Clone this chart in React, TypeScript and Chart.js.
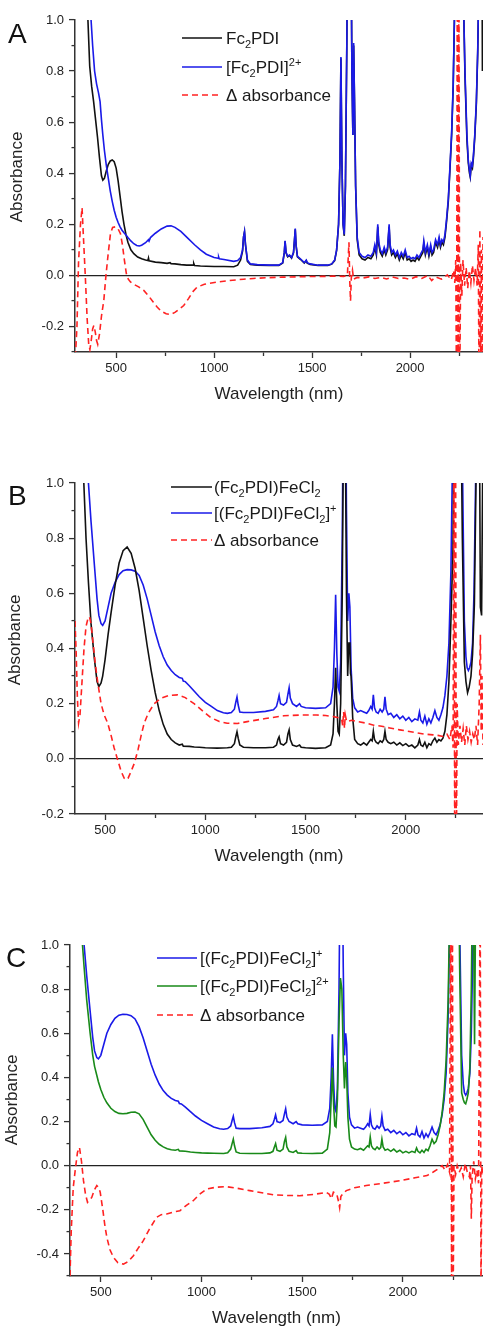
import React, { useEffect, useRef } from 'react';
import { Chart, registerables } from 'chart.js';

Chart.register(...registerables);

type Pt = [number, number];

const FONT = '"Liberation Sans", Arial, Helvetica, sans-serif';

// ---------------- Panel A ----------------
const fc2pdiA: Pt[] = [
  [300, 2.0], [320, 1.6], [340, 1.25], [355, 1.02], [365, 0.82], [375, 0.74], [385, 0.68], [395, 0.61], [405, 0.54], [415, 0.46],
  [425, 0.39], [432, 0.373], [440, 0.38], [450, 0.41], [460, 0.435], [470, 0.448], [480, 0.452], [490, 0.445], [500, 0.42], [510, 0.37],
  [520, 0.31], [530, 0.25], [540, 0.2], [550, 0.16], [560, 0.13], [575, 0.1], [590, 0.085], [610, 0.072], [630, 0.065], [650, 0.06],
  [662, 0.058], [665, 0.068], [668, 0.057], [700, 0.052], [730, 0.05], [760, 0.047], [775, 0.05], [780, 0.046], [800, 0.045], [830, 0.042],
  [860, 0.04], [893, 0.04], [896, 0.047], [900, 0.039], [930, 0.037], [960, 0.036], [1000, 0.035], [1050, 0.035], [1100, 0.034], [1120, 0.04],
  [1135, 0.06], [1145, 0.095], [1150, 0.15], [1155, 0.17], [1160, 0.12], [1170, 0.055], [1185, 0.043], [1220, 0.04], [1280, 0.039], [1330, 0.039],
  [1350, 0.048], [1358, 0.088], [1362, 0.133], [1367, 0.088], [1375, 0.073], [1385, 0.078], [1395, 0.068], [1405, 0.088], [1410, 0.138], [1414, 0.18],
  [1418, 0.118], [1425, 0.073], [1440, 0.063], [1460, 0.048], [1470, 0.058], [1475, 0.048], [1490, 0.043], [1530, 0.039], [1580, 0.039], [1600, 0.044],
  [1615, 0.058], [1625, 0.098], [1635, 0.2], [1642, 0.45], [1647, 0.85], [1652, 0.45], [1658, 0.2], [1664, 0.155], [1670, 0.35], [1677, 0.9],
  [1684, 1.6], [1690, 1.7], [1697, 1.5], [1703, 0.8], [1708, 0.55], [1712, 0.9], [1716, 0.7], [1722, 0.35], [1730, 0.14], [1740, 0.08],
  [1755, 0.065], [1770, 0.06], [1785, 0.07], [1800, 0.065], [1812, 0.08], [1820, 0.11], [1828, 0.08], [1835, 0.19], [1840, 0.12], [1848, 0.09],
  [1858, 0.075], [1868, 0.1], [1876, 0.08], [1885, 0.1], [1893, 0.19], [1898, 0.11], [1906, 0.08], [1915, 0.09], [1925, 0.07], [1935, 0.085],
  [1945, 0.06], [1955, 0.08], [1965, 0.065], [1975, 0.09], [1985, 0.06], [1995, 0.065], [2005, 0.055], [2015, 0.06], [2025, 0.055], [2035, 0.07],
  [2045, 0.06], [2055, 0.075], [2065, 0.09], [2070, 0.125], [2078, 0.08], [2088, 0.11], [2096, 0.075], [2105, 0.11], [2112, 0.08], [2120, 0.09],
  [2130, 0.13], [2140, 0.11], [2148, 0.14], [2155, 0.11], [2162, 0.13], [2170, 0.12], [2178, 0.15], [2186, 0.21], [2195, 0.29], [2203, 0.41],
  [2212, 0.55], [2220, 0.74], [2226, 1.0], [2232, 1.5], [2240, 2], [2260, 2], [2272, 1.1], [2280, 0.78], [2290, 0.53], [2297, 0.44],
  [2303, 0.4], [2307, 0.385], [2312, 0.43], [2318, 0.42], [2323, 0.46], [2330, 0.54], [2338, 0.67], [2345, 0.87], [2352, 1.2], [2360, 2],
  [2366, 1.5], [2369, 0.8], [2372, 1.2],
];

const fc2pdi2plusA: Pt[] = [
  [300, 3], [320, 2.5], [340, 1.9], [355, 1.4], [365, 1.15], [372, 1.0], [380, 0.9], [390, 0.8], [400, 0.75], [410, 0.715],
  [418, 0.68], [425, 0.61], [432, 0.55], [440, 0.49], [450, 0.43], [460, 0.38], [470, 0.33], [480, 0.29], [490, 0.255], [500, 0.228],
  [510, 0.207], [520, 0.19], [530, 0.177], [540, 0.167], [550, 0.158], [560, 0.148], [575, 0.135], [590, 0.124], [605, 0.117], [618, 0.115],
  [630, 0.118], [650, 0.128], [665, 0.14], [668, 0.135], [675, 0.148], [700, 0.165], [730, 0.182], [760, 0.193], [780, 0.194], [800, 0.188],
  [830, 0.172], [860, 0.15], [900, 0.12], [930, 0.1], [960, 0.083], [1000, 0.07], [1020, 0.067], [1023, 0.072], [1026, 0.065], [1050, 0.062],
  [1100, 0.055], [1120, 0.058], [1135, 0.07], [1145, 0.1], [1150, 0.15], [1155, 0.172], [1160, 0.12], [1170, 0.06], [1185, 0.045], [1220, 0.042],
  [1280, 0.04], [1330, 0.04], [1350, 0.05], [1358, 0.09], [1362, 0.135], [1367, 0.09], [1375, 0.075], [1385, 0.08], [1395, 0.07], [1405, 0.09],
  [1410, 0.14], [1414, 0.183], [1418, 0.12], [1425, 0.075], [1440, 0.065], [1460, 0.05], [1470, 0.06], [1475, 0.05], [1490, 0.045], [1530, 0.04],
  [1580, 0.04], [1600, 0.045], [1615, 0.06], [1625, 0.1], [1635, 0.2], [1642, 0.45], [1647, 0.855], [1652, 0.45], [1658, 0.2], [1664, 0.16],
  [1670, 0.35], [1677, 0.9], [1684, 1.6], [1690, 1.7], [1697, 1.5], [1703, 0.8], [1708, 0.55], [1712, 0.91], [1716, 0.7], [1722, 0.35],
  [1730, 0.15], [1740, 0.09], [1755, 0.075], [1770, 0.07], [1785, 0.08], [1800, 0.075], [1812, 0.09], [1820, 0.12], [1828, 0.09], [1835, 0.2],
  [1840, 0.13], [1848, 0.1], [1858, 0.085], [1868, 0.11], [1876, 0.09], [1885, 0.11], [1893, 0.2], [1898, 0.12], [1906, 0.09], [1915, 0.1],
  [1925, 0.08], [1935, 0.095], [1945, 0.07], [1955, 0.09], [1965, 0.075], [1975, 0.1], [1985, 0.07], [1995, 0.075], [2005, 0.065], [2015, 0.07],
  [2025, 0.065], [2035, 0.08], [2045, 0.07], [2055, 0.085], [2065, 0.1], [2070, 0.135], [2078, 0.09], [2088, 0.12], [2096, 0.085], [2105, 0.12],
  [2112, 0.09], [2120, 0.1], [2130, 0.14], [2140, 0.12], [2148, 0.15], [2155, 0.12], [2162, 0.14], [2170, 0.13], [2178, 0.16], [2186, 0.22],
  [2195, 0.3], [2203, 0.42], [2212, 0.56], [2220, 0.75], [2226, 1.0], [2232, 1.5], [2240, 2], [2260, 2], [2272, 1.1], [2280, 0.8],
  [2290, 0.55], [2297, 0.45], [2303, 0.41], [2307, 0.39], [2312, 0.44], [2318, 0.43], [2323, 0.47], [2330, 0.55], [2338, 0.68], [2345, 0.88],
  [2352, 1.2], [2360, 2], [2372, 2],
];

const deltaA: Pt[] = [
  [292, -0.32], [300, -0.2], [308, 0.05], [318, 0.2], [326, 0.265], [333, 0.15], [343, -0.01], [352, -0.17], [360, -0.27], [366, -0.29],
  [372, -0.26], [380, -0.21], [386, -0.196], [393, -0.22], [400, -0.255], [406, -0.27], [415, -0.23], [425, -0.16], [437, -0.098], [448, 0.0],
  [460, 0.09], [471, 0.163], [482, 0.188], [496, 0.19], [510, 0.182], [522, 0.163], [532, 0.12], [542, 0.06], [552, 0.007], [562, -0.015],
  [573, -0.026], [590, -0.035], [615, -0.045], [641, -0.059], [670, -0.085], [690, -0.105], [709, -0.124], [730, -0.14], [755, -0.15], [777, -0.153],
  [800, -0.145], [825, -0.13], [845, -0.118], [870, -0.09], [890, -0.065], [913, -0.046], [950, -0.035], [1015, -0.026], [1080, -0.02], [1150, -0.015],
  [1200, -0.012], [1270, -0.009], [1350, -0.007], [1450, -0.005], [1550, -0.004], [1610, -0.003], [1660, -0.004], [1680, 0.0], [1688, 0.13], [1692, -0.02],
  [1696, -0.1], [1700, -0.01], [1706, 0.02], [1712, -0.015], [1730, -0.008], [1760, -0.01], [1790, -0.006], [1820, -0.012], [1850, -0.008], [1880, -0.014],
  [1910, -0.006], [1940, -0.012], [1970, -0.01], [2000, -0.016], [2030, -0.005], [2060, -0.012], [2090, 0.0], [2110, -0.02], [2130, -0.006], [2160, -0.015],
  [2190, 0.002], [2210, -0.018], [2222, 0.02], [2228, -0.03], [2233, 0.06], [2237, -0.5], [2241, 1.3], [2245, -0.5], [2249, 1.3], [2253, -0.5],
  [2258, 0.05], [2264, -0.08], [2270, 0.06], [2278, -0.04], [2286, 0.03], [2294, -0.05], [2302, 0.02], [2310, -0.03], [2318, 0.04], [2326, -0.02],
  [2334, 0.03], [2342, -0.04], [2348, 0.12], [2352, -0.5], [2356, 0.18], [2360, -0.4], [2364, 0.1], [2368, -0.5], [2372, 0.15],
];

// ---------------- Panel B ----------------
const feNeutralB: Pt[] = [
  [350, 1.8], [365, 1.5], [380, 1.2], [394, 1.0], [405, 0.8], [417, 0.64], [430, 0.49], [447, 0.36], [460, 0.28], [469, 0.262],
  [480, 0.275], [488, 0.3], [500, 0.36], [515, 0.45], [530, 0.53], [550, 0.63], [570, 0.71], [590, 0.755], [610, 0.768], [630, 0.745],
  [650, 0.69], [670, 0.61], [690, 0.51], [710, 0.41], [730, 0.32], [750, 0.24], [770, 0.175], [790, 0.125], [810, 0.09], [830, 0.07],
  [850, 0.058], [870, 0.05], [885, 0.053], [890, 0.046], [920, 0.045], [945, 0.043], [970, 0.042], [1000, 0.04], [1060, 0.039], [1110, 0.04],
  [1130, 0.042], [1145, 0.055], [1152, 0.08], [1158, 0.098], [1164, 0.075], [1172, 0.05], [1190, 0.042], [1240, 0.04], [1300, 0.04], [1340, 0.042],
  [1355, 0.05], [1362, 0.07], [1368, 0.08], [1375, 0.055], [1390, 0.05], [1405, 0.06], [1412, 0.09], [1418, 0.105], [1424, 0.07], [1435, 0.05],
  [1455, 0.045], [1470, 0.05], [1478, 0.042], [1500, 0.04], [1550, 0.038], [1600, 0.04], [1625, 0.05], [1637, 0.09], [1644, 0.2], [1650, 0.33],
  [1656, 0.2], [1662, 0.1], [1668, 0.09], [1675, 0.2], [1683, 0.6], [1690, 1.3], [1697, 1.3], [1704, 0.6], [1710, 0.3], [1716, 0.42],
  [1721, 0.42], [1724, 0.31], [1727, 0.3], [1735, 0.15], [1745, 0.07], [1760, 0.055], [1775, 0.05], [1790, 0.058], [1805, 0.05], [1815, 0.06],
  [1825, 0.07], [1832, 0.065], [1838, 0.1], [1844, 0.07], [1852, 0.06], [1862, 0.055], [1872, 0.065], [1882, 0.06], [1890, 0.07], [1896, 0.1],
  [1902, 0.07], [1912, 0.06], [1925, 0.055], [1940, 0.06], [1955, 0.05], [1970, 0.058], [1985, 0.048], [2000, 0.055], [2015, 0.045], [2030, 0.05],
  [2045, 0.04], [2060, 0.05], [2068, 0.07], [2075, 0.05], [2085, 0.045], [2095, 0.06], [2105, 0.04], [2115, 0.055], [2125, 0.05], [2135, 0.065],
  [2145, 0.075], [2155, 0.06], [2165, 0.07], [2175, 0.065], [2185, 0.075], [2195, 0.1], [2205, 0.16], [2215, 0.28], [2225, 0.5], [2235, 0.75],
  [2245, 1.5], [2270, 1.6], [2282, 0.8], [2292, 0.35], [2300, 0.28], [2308, 0.24], [2316, 0.26], [2325, 0.3], [2333, 0.38], [2342, 0.56],
  [2350, 1.0], [2358, 1.5], [2366, 1.4], [2372, 0.55], [2378, 0.52], [2385, 1.2],
];

// [(Fc2PDI)FeCl2]+ : shown in panels B and C
const feCationBC: Pt[] = [
  [350, 2.5], [365, 2.2], [380, 1.8], [394, 1.45], [405, 1.2], [417, 1.0], [430, 0.86], [447, 0.7], [460, 0.58], [469, 0.52],
  [480, 0.49], [488, 0.484], [500, 0.5], [515, 0.55], [530, 0.6], [550, 0.64], [570, 0.668], [590, 0.682], [610, 0.686], [630, 0.685],
  [650, 0.68], [670, 0.665], [690, 0.63], [710, 0.58], [730, 0.52], [750, 0.46], [770, 0.41], [790, 0.37], [810, 0.34], [830, 0.32],
  [850, 0.305], [870, 0.295], [885, 0.292], [890, 0.282], [900, 0.28], [920, 0.265], [945, 0.245], [970, 0.225], [1000, 0.205], [1030, 0.19],
  [1060, 0.175], [1090, 0.167], [1110, 0.165], [1130, 0.168], [1145, 0.18], [1152, 0.205], [1158, 0.224], [1164, 0.195], [1172, 0.17], [1190, 0.168],
  [1240, 0.168], [1300, 0.172], [1340, 0.178], [1355, 0.19], [1362, 0.21], [1368, 0.23], [1375, 0.2], [1390, 0.195], [1405, 0.205], [1412, 0.235],
  [1418, 0.258], [1424, 0.22], [1435, 0.2], [1455, 0.19], [1470, 0.2], [1478, 0.19], [1500, 0.185], [1550, 0.183], [1600, 0.185], [1625, 0.2],
  [1637, 0.26], [1644, 0.4], [1650, 0.595], [1656, 0.38], [1662, 0.26], [1668, 0.245], [1675, 0.35], [1683, 0.8], [1690, 1.5], [1697, 1.6],
  [1704, 0.9], [1710, 0.5], [1716, 0.6], [1721, 0.55], [1727, 0.33], [1735, 0.22], [1745, 0.185], [1760, 0.17], [1775, 0.175], [1790, 0.17],
  [1805, 0.165], [1815, 0.175], [1825, 0.19], [1832, 0.18], [1838, 0.232], [1844, 0.185], [1852, 0.17], [1862, 0.165], [1872, 0.18], [1882, 0.17],
  [1890, 0.18], [1896, 0.225], [1902, 0.18], [1912, 0.16], [1925, 0.165], [1940, 0.15], [1955, 0.16], [1970, 0.145], [1985, 0.155], [2000, 0.14],
  [2015, 0.15], [2030, 0.135], [2045, 0.145], [2060, 0.14], [2068, 0.17], [2075, 0.14], [2085, 0.13], [2095, 0.155], [2105, 0.125], [2115, 0.145],
  [2125, 0.13], [2135, 0.15], [2145, 0.175], [2155, 0.15], [2165, 0.14], [2175, 0.16], [2185, 0.185], [2195, 0.23], [2205, 0.3], [2215, 0.42],
  [2225, 0.68], [2235, 1.2], [2250, 2], [2270, 2], [2282, 1.1], [2292, 0.5], [2300, 0.37], [2306, 0.33], [2312, 0.32], [2318, 0.33],
  [2325, 0.35], [2333, 0.42], [2340, 0.6], [2348, 1.0], [2356, 1.6], [2364, 2], [2400, 2],
];

const deltaB: Pt[] = [
  [350, 0.5], [356, 0.38], [362, 0.22], [368, 0.13], [375, 0.16], [385, 0.28], [395, 0.4], [405, 0.48], [415, 0.51], [422, 0.515],
  [430, 0.49], [440, 0.42], [452, 0.34], [464, 0.274], [480, 0.2], [495, 0.16], [513, 0.13], [530, 0.085], [545, 0.04], [563, -0.004],
  [580, -0.045], [595, -0.07], [604, -0.076], [615, -0.07], [630, -0.045], [646, -0.016], [665, 0.035], [680, 0.085], [695, 0.129], [715, 0.165],
  [745, 0.2], [780, 0.22], [820, 0.23], [861, 0.232], [900, 0.222], [944, 0.2], [985, 0.175], [1026, 0.15], [1070, 0.135], [1109, 0.129],
  [1160, 0.128], [1209, 0.135], [1300, 0.146], [1391, 0.156], [1480, 0.159], [1556, 0.159], [1600, 0.157], [1639, 0.153], [1660, 0.15], [1680, 0.145],
  [1685, 0.12], [1690, 0.17], [1694, 0.11], [1698, 0.16], [1705, 0.135], [1730, 0.14], [1760, 0.135], [1805, 0.129], [1840, 0.122], [1880, 0.118],
  [1920, 0.112], [1970, 0.105], [2010, 0.1], [2050, 0.095], [2090, 0.09], [2136, 0.087], [2160, 0.085], [2185, 0.081], [2205, 0.09], [2220, 0.07],
  [2230, 0.12], [2236, 0.04], [2240, 1.3], [2244, -0.4], [2248, 1.3], [2252, -0.4], [2256, 0.2], [2262, 0.05], [2270, 0.12], [2278, 0.06],
  [2286, 0.11], [2294, 0.05], [2302, 0.12], [2310, 0.07], [2318, 0.1], [2326, 0.06], [2334, 0.09], [2342, 0.07], [2350, 0.12], [2358, 0.05],
  [2366, 0.2], [2372, 0.45], [2376, 0.1], [2380, 0.3], [2385, 0.05],
];

// ---------------- Panel C ----------------
const feDicationC: Pt[] = [
  [347, 2.5], [365, 2.1], [380, 1.7], [394, 1.3], [405, 1.05], [417, 0.9], [430, 0.75], [447, 0.6], [460, 0.5], [469, 0.45],
  [480, 0.41], [488, 0.38], [500, 0.345], [515, 0.31], [530, 0.285], [550, 0.26], [570, 0.245], [590, 0.237], [610, 0.235], [630, 0.237],
  [650, 0.242], [670, 0.243], [690, 0.235], [710, 0.21], [730, 0.175], [750, 0.14], [770, 0.115], [790, 0.097], [810, 0.085], [830, 0.077],
  [850, 0.072], [870, 0.07], [885, 0.074], [890, 0.067], [920, 0.065], [945, 0.062], [970, 0.06], [1000, 0.058], [1030, 0.057], [1060, 0.056],
  [1110, 0.055], [1130, 0.058], [1145, 0.075], [1152, 0.1], [1158, 0.12], [1164, 0.09], [1172, 0.062], [1190, 0.056], [1240, 0.055], [1300, 0.055],
  [1340, 0.058], [1355, 0.065], [1362, 0.085], [1368, 0.1], [1375, 0.07], [1390, 0.065], [1405, 0.075], [1412, 0.11], [1418, 0.128], [1424, 0.085],
  [1435, 0.065], [1455, 0.06], [1470, 0.068], [1478, 0.058], [1500, 0.056], [1550, 0.055], [1600, 0.057], [1625, 0.075], [1637, 0.15], [1644, 0.3],
  [1650, 0.445], [1656, 0.28], [1662, 0.18], [1668, 0.175], [1675, 0.3], [1683, 0.65], [1690, 0.85], [1697, 0.8], [1704, 0.5], [1710, 0.35],
  [1716, 0.47], [1721, 0.4], [1727, 0.22], [1735, 0.12], [1745, 0.085], [1760, 0.075], [1775, 0.072], [1790, 0.078], [1805, 0.07], [1815, 0.08],
  [1825, 0.09], [1832, 0.085], [1838, 0.13], [1844, 0.09], [1852, 0.078], [1862, 0.072], [1872, 0.085], [1882, 0.075], [1890, 0.082], [1896, 0.12],
  [1902, 0.085], [1912, 0.07], [1925, 0.075], [1940, 0.065], [1955, 0.075], [1970, 0.062], [1985, 0.07], [2000, 0.058], [2015, 0.065], [2030, 0.058],
  [2045, 0.065], [2060, 0.06], [2068, 0.08], [2075, 0.065], [2085, 0.058], [2095, 0.07], [2105, 0.06], [2115, 0.075], [2125, 0.068], [2135, 0.09],
  [2145, 0.12], [2155, 0.1], [2165, 0.11], [2175, 0.14], [2185, 0.18], [2195, 0.24], [2205, 0.33], [2215, 0.48], [2225, 0.75], [2235, 1.3],
  [2250, 2], [2270, 2], [2282, 0.9], [2292, 0.33], [2300, 0.3], [2306, 0.285], [2312, 0.28], [2318, 0.3], [2325, 0.33], [2333, 0.45],
  [2340, 0.8], [2348, 1.5], [2356, 0.55], [2364, 1.5], [2372, 2], [2390, 1.5], [2398, 1.5],
];

const deltaC: Pt[] = [
  [347, -0.5], [353, -0.3], [363, -0.1], [373, -0.02], [384, 0.06], [394, 0.083], [404, 0.02], [414, -0.068], [424, -0.13], [434, -0.166],
  [445, -0.155], [455, -0.144], [468, -0.11], [480, -0.09], [490, -0.1], [497, -0.12], [510, -0.2], [520, -0.27], [530, -0.325], [545, -0.38],
  [563, -0.416], [585, -0.44], [612, -0.446], [635, -0.435], [662, -0.408], [685, -0.375], [711, -0.34], [740, -0.29], [777, -0.234], [800, -0.222],
  [827, -0.219], [860, -0.21], [893, -0.204], [925, -0.18], [959, -0.159], [990, -0.13], [1025, -0.106], [1070, -0.098], [1124, -0.095], [1180, -0.103],
  [1240, -0.113], [1300, -0.123], [1356, -0.132], [1420, -0.135], [1488, -0.136], [1560, -0.13], [1620, -0.121], [1635, -0.13], [1645, -0.15], [1655, -0.12],
  [1672, -0.13], [1680, -0.16], [1686, -0.19], [1692, -0.14], [1700, -0.13], [1719, -0.113], [1760, -0.1], [1818, -0.09], [1900, -0.08], [1984, -0.068],
  [2060, -0.055], [2120, -0.045], [2149, -0.03], [2175, -0.015], [2195, 0.0], [2210, -0.02], [2222, 0.005], [2232, -0.03], [2238, 1.3], [2242, -0.6],
  [2246, 1.3], [2250, -0.6], [2254, 0.0], [2262, -0.04], [2270, 0.0], [2280, -0.03], [2290, -0.01], [2300, -0.05], [2310, 0.01], [2320, -0.03],
  [2330, -0.05], [2336, 0.0], [2340, -0.24], [2344, -0.05], [2352, 0.02], [2360, -0.06], [2368, -0.02], [2376, -0.08], [2384, 1.3], [2388, -0.6],
  [2392, 0.0], [2398, -0.05],
];

// ---------------- Ticks & text ----------------
const xTickValues = [500, 750, 1000, 1250, 1500, 1750, 2000, 2250];
const yTicksA = [-0.3, -0.2, -0.1, 0, 0.1, 0.2, 0.3, 0.4, 0.5, 0.6, 0.7, 0.8, 0.9, 1.0];
const yTicksB = [-0.2, -0.1, 0, 0.1, 0.2, 0.3, 0.4, 0.5, 0.6, 0.7, 0.8, 0.9, 1.0];
const yTicksC = [-0.5, -0.4, -0.3, -0.2, -0.1, 0, 0.1, 0.2, 0.3, 0.4, 0.5, 0.6, 0.7, 0.8, 0.9, 1.0];

const xTitle = 'Wavelength (nm)';
const yTitle = 'Absorbance';
type Part = [string, '' | 'sub' | 'sup'];
const legendTextA: Part[][] = [
  [['Fc', ''], ['2', 'sub'], ['PDI', '']],
  [['[Fc', ''], ['2', 'sub'], ['PDI]', ''], ['2+', 'sup']],
  [['\u0394 absorbance', '']],
];
const legendTextB: Part[][] = [
  [['(Fc', ''], ['2', 'sub'], ['PDI)FeCl', ''], ['2', 'sub']],
  [['[(Fc', ''], ['2', 'sub'], ['PDI)FeCl', ''], ['2', 'sub'], [']', ''], ['+', 'sup']],
  [['\u0394 absorbance', '']],
];
const legendTextC: Part[][] = [
  [['[(Fc', ''], ['2', 'sub'], ['PDI)FeCl', ''], ['2', 'sub'], [']', ''], ['+', 'sup']],
  [['[(Fc', ''], ['2', 'sub'], ['PDI)FeCl', ''], ['2', 'sub'], [']', ''], ['2+', 'sup']],
  [['\u0394 absorbance', '']],
];

const BLACK = '#111111';
const BLUE = '#1a1ae8';
const GREEN = '#198a19';
const RED = '#ff2222';
const DASH = [6, 4];

interface Series { data: Pt[]; color: string; dash?: number[]; order: number; }
interface PanelCfg {
  top: number; height: number; padTop: number; yW: number; xH: number; xTitlePad: number;
  xMin: number; xMax: number; yMin: number; yMax: number; yTicks: number[];
  series: Series[];
  letter: string; letterX: number; letterY: number;
  yTitleX: number; yTitleY: number;
  lineX0: number; lineX1: number; textX: number; rows: number[];
  legend: { color: string; dash?: number[]; parts: Part[] }[];
}

const panels: PanelCfg[] = [
  {
    top: 0, height: 410, padTop: 20, yW: 75, xH: 58, xTitlePad: 5,
    xMin: 290, xMax: 2372, yMin: -0.3, yMax: 1.0, yTicks: yTicksA,
    series: [
      { data: deltaA, color: RED, dash: DASH, order: 0 },
      { data: fc2pdi2plusA, color: BLUE, order: 1 },
      { data: fc2pdiA, color: BLACK, order: 2 },
    ],
    letter: 'A', letterX: 8, letterY: 43,
    yTitleX: 17, yTitleY: 177,
    lineX0: 182, lineX1: 222, textX: 226, rows: [38, 67, 95],
    legend: [
      { color: BLACK, parts: legendTextA[0] },
      { color: BLUE, parts: legendTextA[1] },
      { color: RED, dash: DASH, parts: legendTextA[2] },
    ],
  },
  {
    top: 430, height: 440, padTop: 53, yW: 75, xH: 56, xTitlePad: 3,
    xMin: 350, xMax: 2385, yMin: -0.2, yMax: 1.0, yTicks: yTicksB,
    series: [
      { data: deltaB, color: RED, dash: DASH, order: 0 },
      { data: feNeutralB, color: BLACK, order: 1 },
      { data: feCationBC, color: BLUE, order: 2 },
    ],
    letter: 'B', letterX: 8, letterY: 75,
    yTitleX: 15, yTitleY: 210,
    lineX0: 171, lineX1: 212, textX: 214, rows: [57, 83, 110],
    legend: [
      { color: BLACK, parts: legendTextB[0] },
      { color: BLUE, parts: legendTextB[1] },
      { color: RED, dash: DASH, parts: legendTextB[2] },
    ],
  },
  {
    top: 880, height: 449, padTop: 65, yW: 70, xH: 53, xTitlePad: 0,
    xMin: 347, xMax: 2398, yMin: -0.5, yMax: 1.0, yTicks: yTicksC,
    series: [
      { data: deltaC, color: RED, dash: DASH, order: 0 },
      { data: feDicationC, color: GREEN, order: 1 },
      { data: feCationBC, color: BLUE, order: 2 },
    ],
    letter: 'C', letterX: 6, letterY: 87,
    yTitleX: 12, yTitleY: 220,
    lineX0: 157, lineX1: 197, textX: 200, rows: [78, 106, 135],
    legend: [
      { color: BLUE, parts: legendTextC[0] },
      { color: GREEN, parts: legendTextC[1] },
      { color: RED, dash: DASH, parts: legendTextC[2] },
    ],
  },
];

const decoPlugin = {
  id: 'deco',
  afterDraw(chart: any, _args: any, opts: any) {
    const p: PanelCfg = opts.panel;
    if (!p) return;
    const ctx: CanvasRenderingContext2D = chart.ctx;
    ctx.save();
    ctx.fillStyle = '#111';
    ctx.textAlign = 'left';
    ctx.textBaseline = 'alphabetic';
    ctx.font = `28px ${FONT}`;
    ctx.fillText(p.letter, p.letterX, p.letterY);

    ctx.save();
    ctx.translate(p.yTitleX, p.yTitleY);
    ctx.rotate(-Math.PI / 2);
    ctx.font = `17px ${FONT}`;
    ctx.textAlign = 'center';
    ctx.textBaseline = 'middle';
    ctx.fillStyle = '#222';
    ctx.fillText(yTitle, 0, 0);
    ctx.restore();

    p.legend.forEach((entry, i) => {
      const y = p.rows[i];
      ctx.strokeStyle = entry.color;
      ctx.lineWidth = 1.6;
      ctx.setLineDash(entry.dash || []);
      ctx.beginPath();
      ctx.moveTo(p.lineX0, y);
      ctx.lineTo(p.lineX1, y);
      ctx.stroke();
      ctx.setLineDash([]);
      let x = p.textX;
      const base = y + 6;
      ctx.fillStyle = '#1a1a1a';
      ctx.textAlign = 'left';
      ctx.textBaseline = 'alphabetic';
      for (const [t, kind] of entry.parts) {
        const size = kind ? 11 : 17;
        ctx.font = `${size}px ${FONT}`;
        const by = kind === 'sub' ? base + 4 : kind === 'sup' ? base - 7 : base;
        ctx.fillText(t, x, by);
        x += ctx.measureText(t).width;
      }
    });
    ctx.restore();
  },
};

function makeConfig(p: PanelCfg): any {
  const isMajorY = (v: number) => Math.round(v * 10) % 2 === 0;
  const isMajorX = (v: number) => Math.round(v) % 500 === 0;
  return {
    type: 'scatter',
    data: {
      datasets: p.series.map((s) => ({
        data: s.data.map(([x, y]) => ({ x, y })),
        borderColor: s.color,
        backgroundColor: s.color,
        borderWidth: 1.6,
        borderDash: s.dash || [],
        showLine: true,
        pointRadius: 0,
        pointHoverRadius: 0,
        fill: false,
        tension: 0,
        order: s.order,
      })),
    },
    options: {
      responsive: false,
      animation: false,
      devicePixelRatio: 1,
      events: [],
      layout: { padding: { top: p.padTop, left: 0, right: 0, bottom: 0 } },
      plugins: {
        legend: { display: false },
        tooltip: { enabled: false },
        deco: { panel: p },
      },
      scales: {
        x: {
          type: 'linear',
          position: 'bottom',
          min: p.xMin,
          max: p.xMax,
          afterBuildTicks: (s: any) => { s.ticks = xTickValues.map((v) => ({ value: v })); },
          afterFit: (s: any) => { s.height = p.xH; },
          border: { display: true, color: '#333', width: 1.5 },
          grid: {
            drawOnChartArea: false,
            drawTicks: true,
            tickLength: 6,
            tickWidth: 1.3,
            tickColor: '#333',
            tickBorderDash: (c: any) => (c.tick && isMajorX(c.tick.value) ? [] : [3.5, 10]),
          },
          ticks: {
            autoSkip: false,
            maxRotation: 0,
            padding: 3,
            color: '#222',
            font: { family: FONT, size: 13 },
            callback: (v: number) => (isMajorX(v) ? String(Math.round(v)) : ''),
          },
          title: {
            display: true,
            text: xTitle,
            color: '#222',
            font: { family: FONT, size: 17 },
            padding: { top: 0, bottom: p.xTitlePad },
          },
        },
        y: {
          type: 'linear',
          position: 'left',
          min: p.yMin,
          max: p.yMax,
          afterBuildTicks: (s: any) => { s.ticks = p.yTicks.map((v) => ({ value: v })); },
          afterFit: (s: any) => { s.width = p.yW; },
          border: { display: true, color: '#333', width: 1.5 },
          grid: {
            drawOnChartArea: true,
            drawTicks: true,
            tickLength: 6,
            tickWidth: 1.3,
            lineWidth: 1.2,
            tickColor: '#333',
            color: (c: any) => (c.tick && Math.abs(c.tick.value) < 1e-9 ? '#222' : 'rgba(0,0,0,0)'),
            tickBorderDash: (c: any) => (c.tick && isMajorY(c.tick.value) ? [] : [3.5, 2.5]),
            tickBorderDashOffset: (c: any) => (c.tick && isMajorY(c.tick.value) ? 0 : 3.5),
          },
          ticks: {
            autoSkip: false,
            padding: 5,
            color: '#222',
            font: { family: FONT, size: 13 },
            callback: (v: number) => {
              const k = Math.round(v * 10);
              if (k % 2 !== 0) return '';
              return (k / 10).toFixed(1);
            },
          },
          title: { display: false },
        },
      },
    },
    plugins: [decoPlugin],
  };
}

function Panel({ cfg }: { cfg: PanelCfg }) {
  const ref = useRef<HTMLCanvasElement | null>(null);
  useEffect(() => {
    if (!ref.current) return;
    const chart = new Chart(ref.current, makeConfig(cfg));
    return () => chart.destroy();
  }, [cfg]);
  return (
    <canvas
      ref={ref}
      width={483}
      height={cfg.height}
      style={{ position: 'absolute', left: 0, top: cfg.top, width: 483, height: cfg.height, display: 'block' }}
    />
  );
}

export default function App() {
  return (
    <div style={{ position: 'absolute', left: 0, top: 0, width: 483, height: 1329, background: '#fff', overflow: 'hidden' }}>
      {panels.map((p, i) => (
        <Panel key={i} cfg={p} />
      ))}
    </div>
  );
}
